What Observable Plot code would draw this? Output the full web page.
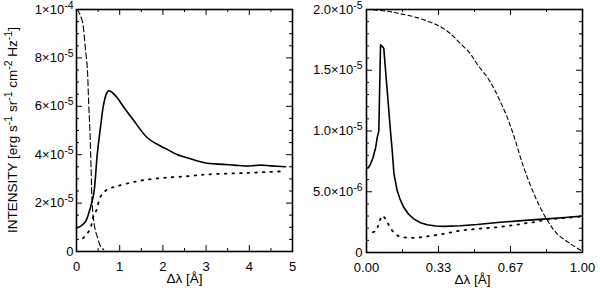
<!DOCTYPE html>
<html><head><meta charset="utf-8">
<script src="https://cdn.jsdelivr.net/npm/d3@7"></script>
<script src="https://cdn.jsdelivr.net/npm/@observablehq/plot@0.6"></script>
<style>
body{margin:0;background:#fff;}
#row{display:flex;width:600px;height:295px;}
svg{display:block}
</style></head><body><div id="row"></div>
<script>
// Intensities in units of 1e-6 erg s^-1 sr^-1 cm^-2 Hz^-1
// ---- Left panel (Δλ 0..5 Å)
const leftSolidX = [0, 0.1, 0.21, 0.32, 0.40, 0.48, 0.56, 0.63, 0.70, 0.75, 0.82, 0.94, 1.1, 1.33, 1.64, 1.94, 2.10, 2.3, 2.56, 2.8, 2.99, 3.3, 3.64, 3.98, 4.1, 4.26, 4.5, 4.84];
const leftSolidY = [9.7, 10.5, 12.4, 18, 24, 40, 52, 61, 65.5, 66.4, 65.8, 63.6, 59.5, 54, 47, 43.6, 42.2, 40.3, 38.7, 37.4, 36.6, 36.1, 35.7, 35.3, 35.5, 35.7, 35.4, 35.0];
const leftDashX = [0, 0.03, 0.13, 0.21, 0.25, 0.28, 0.31, 0.34, 0.36, 0.40, 0.44, 0.48, 0.56, 0.63];
const leftDashY = [100, 99.6, 95.4, 83, 76, 62, 50, 33, 20.7, 12.4, 8.5, 6.2, 2.0, 0.8];
const leftDotX = [0.15, 0.21, 0.32, 0.38, 0.46, 0.56, 0.71, 0.94, 1.4, 1.87, 2.56, 2.99, 3.98, 4.84];
const leftDotY = [5.5, 6.6, 9.5, 13.9, 17, 22.8, 25.6, 27, 29, 30.2, 31.1, 31.8, 32.5, 33.2];
// ---- Right panel (Δλ 0..1 Å)
const rightSolidX = [0, 0.01, 0.019, 0.03, 0.042, 0.05, 0.057, 0.065, 0.076, 0.08, 0.111, 0.119, 0.127, 0.142, 0.155, 0.173, 0.195, 0.219, 0.25, 0.281, 0.32, 0.358, 0.435, 0.512, 0.62, 0.72, 0.833, 0.92, 1.0];
const rightSolidY = [6.9, 7.0, 7.3, 7.8, 8.6, 9.5, 10.0, 17.1, 16.9, 16.8, 10.0, 8.4, 6.5, 5.1, 4.4, 3.7, 3.15, 2.77, 2.45, 2.28, 2.18, 2.15, 2.2, 2.3, 2.49, 2.62, 2.77, 2.88, 3.0];
const rightDotX = [0.03, 0.045, 0.057, 0.066, 0.073, 0.085, 0.096, 0.108, 0.119, 0.135, 0.15, 0.188, 0.235, 0.281, 0.358, 0.435, 0.512, 0.62, 0.773, 0.833, 0.92, 1.0];
const rightDotY = [1.67, 1.75, 2.36, 2.85, 3.05, 2.85, 2.5, 2.1, 1.81, 1.5, 1.32, 1.21, 1.21, 1.32, 1.54, 1.81, 1.95, 2.1, 2.49, 2.71, 2.85, 2.96];
const rightDashX = [0, 0.1, 0.157, 0.22, 0.296, 0.35, 0.389, 0.435, 0.481, 0.512, 0.559, 0.59, 0.62, 0.65, 0.682, 0.728, 0.782, 0.833, 0.883, 0.944, 1.0];
const rightDashY = [20, 19.85, 19.65, 19.4, 18.95, 18.5, 18.0, 17.2, 16.35, 15.5, 14.43, 13.5, 12.4, 11.2, 9.6, 7.0, 4.55, 2.77, 1.54, 0.72, 0.1];

// ---- Ticks and labels
const leftXTicks = [0, 1, 2, 3, 4, 5];
const leftXLabels = ["0", "1", "2", "3", "4", "5"];
const leftXMinor = [0.5, 1.5, 2.5, 3.5, 4.5];
const leftYTicks = [0, 20, 40, 60, 80, 100];
const leftYLabels = ["0", "2×10^{-5}", "4×10^{-5}", "6×10^{-5}", "8×10^{-5}", "1×10^{-4}"];
const leftYMinor = [5, 10, 15, 25, 30, 35, 45, 50, 55, 65, 70, 75, 85, 90, 95];
const rightXTicks = [0, 0.3333, 0.6667, 1];
const rightXLabels = ["0.00", "0.33", "0.67", "1.00"];
const rightXMinor = [0.1667, 0.5, 0.8333];
const rightYTicks = [0, 5, 10, 15, 20];
const rightYLabels = ["0", "5.0×10^{-6}", "1.0×10^{-5}", "1.5×10^{-5}", "2.0×10^{-5}"];
const rightYMinor = [1, 2, 3, 4, 6, 7, 8, 9, 11, 12, 13, 14, 16, 17, 18, 19];
const xTitle = "Δλ [Å]";
const yTitle = "INTENSITY [erg s^{-1} sr^{-1} cm^{-2} Hz^{-1}]";

const zip = (xs, ys) => xs.map((x, i) => ({x, y: ys[i]}));

function supify(svg) {
  d3.select(svg).selectAll("text").each(function() {
    const t = this.textContent;
    if (!t.includes("^{")) return;
    const parts = t.split(/\^\{([^}]*)\}/);
    const sel = d3.select(this);
    sel.text(null);
    let shifted = false;
    parts.forEach((p, i) => {
      if (i % 2 === 1) {
        sel.append("tspan").attr("font-size", "10.5px").attr("dy", -5).text(p);
        shifted = true;
      } else if (p) {
        const ts = sel.append("tspan").text(p);
        if (shifted) ts.attr("dy", 5);
        shifted = false;
      }
    });
  });
}

function panel(cfg) {
  const W = 300, H = 295;
  const {ml, mr, mt, mb} = cfg;
  const fw = W - ml - mr, fh = H - mt - mb;
  const tickStyle = {stroke: "black", strokeWidth: 1};
  const xt = (vals, len) => [
    Plot.tickX(vals, {x: d => d, insetBottom: fh - len, ...tickStyle}),
    Plot.tickX(vals, {x: d => d, insetTop: fh - len, ...tickStyle})
  ];
  const yt = (vals, len) => [
    Plot.tickY(vals, {y: d => d, insetRight: fw - len, ...tickStyle}),
    Plot.tickY(vals, {y: d => d, insetLeft: fw - len, ...tickStyle})
  ];
  const xMap = new Map(cfg.xTicks.map((d, i) => [d, cfg.xLabels[i]]));
  const yMap = new Map(cfg.yTicks.map((d, i) => [d, cfg.yLabels[i]]));
  const marks = [
    ...cfg.series.map(s => Plot.line(s.data, {x: "x", y: "y", stroke: "black", strokeWidth: s.w, strokeDasharray: s.dash, curve: s.curve})),
    ...xt(cfg.xTicks, 6), ...xt(cfg.xMinor, 3),
    ...yt(cfg.yTicks, 6), ...yt(cfg.yMinor, 3),
    Plot.frame({stroke: "black", strokeWidth: 1.6}),
    Plot.axisX({ticks: cfg.xTicks, tickFormat: d => xMap.get(d), tickSize: 0, tickPadding: 10, label: null, fontSize: 13}),
    Plot.axisY({ticks: cfg.yTicks, tickFormat: d => yMap.get(d), tickSize: 0, tickPadding: cfg.yPad, label: null, fontSize: 13}),
    Plot.text([xTitle], {text: d => d, frameAnchor: "bottom", dy: 31, dx: cfg.xTitleDx, fontSize: 13.5})
  ];
  const svg = Plot.plot({
    width: W, height: H,
    marginLeft: ml, marginRight: mr, marginTop: mt, marginBottom: mb,
    x: {domain: cfg.xDomain},
    y: {domain: cfg.yDomain},
    style: {background: "white", color: "black", fontFamily: "'Liberation Sans', Arial, Helvetica, sans-serif", fontSize: "13px"},
    marks
  });
  if (cfg.yTitle) {
    d3.select(svg).append("text")
      .attr("transform", `translate(12,${mt + fh / 2}) rotate(-90)`)
      .attr("text-anchor", "middle")
      .attr("dy", "0.35em")
      .attr("font-size", "13.5px")
      .attr("fill", "black")
      .text(cfg.yTitle);
  }
  supify(svg);
  return svg;
}

const left = panel({
  ml: 76, mr: 8, mt: 9, mb: 44, yPad: 3, xTitleDx: 0,
  xDomain: [0, 5], yDomain: [0, 100],
  xTicks: leftXTicks, xLabels: leftXLabels, xMinor: leftXMinor,
  yTicks: leftYTicks, yLabels: leftYLabels, yMinor: leftYMinor,
  yTitle,
  series: [
    {data: zip(leftSolidX, leftSolidY), w: 1.6, dash: null, curve: "catmull-rom"},
    {data: zip(leftDashX, leftDashY), w: 1.1, dash: "6,3", curve: "catmull-rom"},
    {data: zip(leftDotX, leftDotY), w: 1.8, dash: "1.6,6", curve: "catmull-rom"}
  ]
});
const right = panel({
  ml: 66, mr: 18, mt: 9, mb: 43, yPad: 4, xTitleDx: -2,
  xDomain: [0, 1], yDomain: [0, 20],
  xTicks: rightXTicks, xLabels: rightXLabels, xMinor: rightXMinor,
  yTicks: rightYTicks, yLabels: rightYLabels, yMinor: rightYMinor,
  yTitle: null,
  series: [
    {data: zip(rightSolidX, rightSolidY), w: 1.6, dash: null, curve: "linear"},
    {data: zip(rightDashX, rightDashY), w: 1.1, dash: "4,3", curve: "catmull-rom"},
    {data: zip(rightDotX, rightDotY), w: 1.8, dash: "1.6,6", curve: "linear"}
  ]
});
document.getElementById("row").append(left, right);
</script>
</body></html>
